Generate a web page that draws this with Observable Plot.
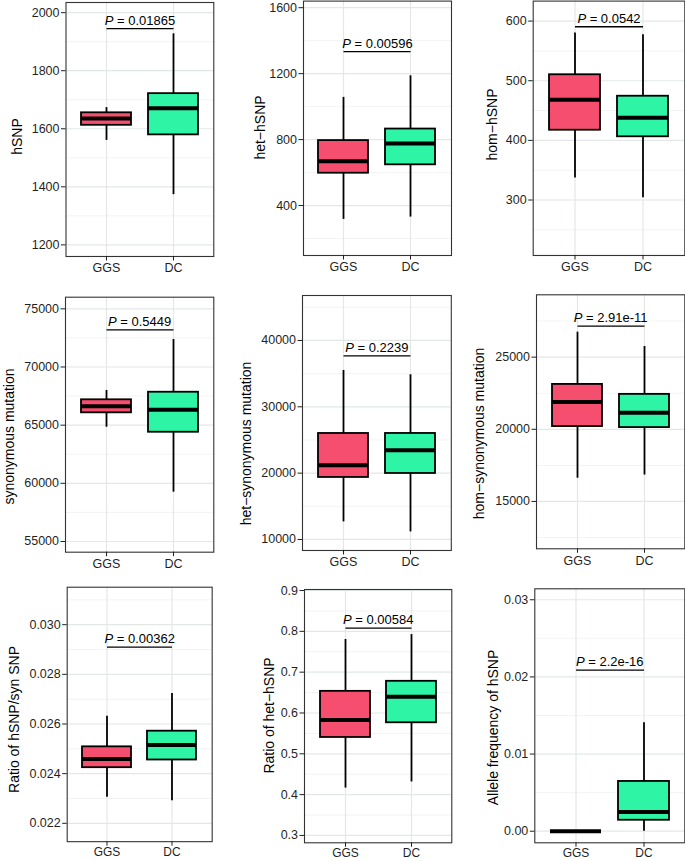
<!DOCTYPE html>
<html><head><meta charset="utf-8">
<script src="https://cdn.jsdelivr.net/npm/d3@7"></script>
<script src="https://cdn.jsdelivr.net/npm/@observablehq/plot@0.6"></script>
<style>
body{margin:0;background:#fff;}
#chart{position:relative;width:685px;height:861px;overflow:hidden;background:#fff;}
#chart svg{position:absolute;}
</style></head><body><div id="chart"></div>
<script>
// ---- data ----
const groups = ["GGS", "DC"];
const groupColors = ["#F64E6E", "#2DF5A5"];
const yLabels = ["hSNP", "het\u2212hSNP", "hom\u2212hSNP",
  "synonymous mutation", "het\u2212synonymous mutation", "hom\u2212synonymous mutation",
  "Ratio of hSNP/syn SNP", "Ratio of het\u2212hSNP", "Allele frequency of hSNP"];
const pTexts = ["P = 0.01865", "P = 0.00596", "P = 0.0542",
  "P = 0.5449", "P = 0.2239", "P = 2.91e-11",
  "P = 0.00362", "P = 0.00584", "P = 2.2e-16"];
// [lower whisker, q1, median, q3, upper whisker]
const ggsStats = [
  [1560, 1612, 1635, 1655, 1673],
  [316, 596, 669, 794, 1056],
  [337, 417, 468, 510, 580],
  [64820, 66060, 66630, 67180, 67980],
  [12650, 19350, 21200, 25980, 35480],
  [16610, 20190, 21890, 23110, 26730],
  [0.02305, 0.02424, 0.02459, 0.02508, 0.02631],
  [0.416, 0.540, 0.5825, 0.653, 0.780],
  [0, 0, 0, 0, 0]
];
const dcStats = [
  [1373, 1579, 1671, 1721, 1927],
  [330, 647, 777, 864, 1187],
  [304, 406, 438, 474, 577],
  [59240, 64390, 66320, 67830, 72360],
  [11140, 19950, 23460, 25980, 34830],
  [16830, 20120, 21150, 22420, 25740],
  [0.02291, 0.02455, 0.02515, 0.02571, 0.02723],
  [0.431, 0.576, 0.6396, 0.6776, 0.792],
  [0, 0.00142, 0.0025, 0.00645, 0.01407]
];
const bracketY = [1945, 1334, 590.5, 73195, 37690, 27150, 0.0291, 0.808, 0.02087];
const yTicks = [
  [1200, 1400, 1600, 1800, 2000],
  [400, 800, 1200, 1600],
  [300, 400, 500, 600],
  [55000, 60000, 65000, 70000, 75000],
  [10000, 20000, 30000, 40000],
  [15000, 20000, 25000],
  [0.022, 0.024, 0.026, 0.028, 0.030],
  [0.3, 0.4, 0.5, 0.6, 0.7, 0.8, 0.9],
  [0, 0.01, 0.02, 0.03]
];
const yMinor = [
  [1300, 1500, 1700, 1900],
  [200, 600, 1000, 1400],
  [250, 350, 450, 550],
  [57500, 62500, 67500, 72500],
  [15000, 25000, 35000, 45000],
  [12500, 17500, 22500, 27500],
  [0.023, 0.025, 0.027, 0.029, 0.031],
  [0.35, 0.45, 0.55, 0.65, 0.75, 0.85],
  [0.005, 0.015, 0.025]
];
const yDomains = [
  [1160, 2035], [97, 1640], [207, 633.5],
  [54080, 76000], [8340, 46780], [11720, 29320],
  [0.02126, 0.03151], [0.282, 0.9025], [-0.0015, 0.03142]
];
const tickFormats = ["d", "d", "d", "d", "d", "d", ".3f", ".1f", ".2f"];

// ---- layout (page pixels) ----
const colStart = [0, 228, 456], rowStart = [0, 285, 575];
const frames = [ // [left, top, right, bottom]
  [65.5, 2, 213.3, 256], [303, 0.6, 451, 255], [532.7, 0.6, 684.3, 255],
  [65, 296.7, 213.3, 551.7], [302, 295, 450.8, 550], [536, 294.3, 684.3, 548.3],
  [66.7, 586.7, 211.7, 841.2], [304, 589, 451.3, 842.3], [534.3, 588.3, 684.3, 842.3]
];
const titleCenters = [
  [17.5, 136], [260, 127], [492, 124],
  [9, 436], [246, 443], [479, 433],
  [14, 719], [269, 715], [493.5, 727]
];

const chart = document.getElementById("chart");
const FONT = "'Liberation Sans', Arial, Helvetica, sans-serif";

frames.forEach(([L, T, R, B], i) => {
  const row = Math.floor(i / 3);
  const cx = colStart[i % 3], cy = rowStart[row];
  const mL = L - cx, mT = T - cy, mR = 1, mB = Math.min(30, 861 - B);
  const rows = groups.map((g, k) => {
    const s = (k === 0 ? ggsStats : dcStats)[i];
    return {g, min: s[0], q1: s[1], med: s[2], q3: s[3], max: s[4]};
  });
  const [tx, ty] = titleCenters[i];
  const plot = Plot.plot({
    width: R - cx + mR,
    height: B - cy + mB,
    marginLeft: mL, marginTop: mT, marginRight: mR, marginBottom: mB,
    style: {fontFamily: FONT, background: "transparent", overflow: "visible", maxWidth: "none"},
    x: {type: "band", domain: groups, paddingInner: 0.25, paddingOuter: 0.225},
    y: {domain: yDomains[i]},
    color: {domain: groups, range: groupColors},
    marks: [
      Plot.gridY(yMinor[i], {stroke: "#eef1f0", strokeOpacity: 1, strokeWidth: 0.8}),
      Plot.gridY(yTicks[i], {stroke: "#e3e8e7", strokeOpacity: 1, strokeWidth: 1.2}),
      Plot.gridX(groups, {stroke: "#e3e8e7", strokeOpacity: 1, strokeWidth: 1.2}),
      Plot.ruleX(rows, {x: "g", y1: "min", y2: "max", stroke: "black", strokeWidth: 1.8}),
      Plot.barY(rows, {x: "g", y1: "q1", y2: "q3", fill: "g", stroke: "black", strokeWidth: 1.8}),
      Plot.tickY(rows, {x: "g", y: "med", stroke: "black", strokeWidth: 4}),
      Plot.link([{a: "GGS", b: "DC", y: bracketY[i]}], {x1: "a", x2: "b", y1: "y", y2: "y", stroke: "black", strokeWidth: 1.3}),
      Plot.text([{y: bracketY[i], t: pTexts[i]}], {y: "y", text: "t", lineAnchor: "bottom", dy: -4, fontSize: 13, fill: "black"}),
      Plot.frame({stroke: "#333", strokeWidth: 1.1}),
      Plot.axisY(yTicks[i], {tickFormat: d3.format(tickFormats[i]), tickSize: 4.5, tickPadding: 2, fontSize: 12.5, color: "#1f1f1f", label: null}),
      Plot.axisX({tickSize: 4.5, tickPadding: row === 2 ? 1 : 2.5, fontSize: row === 2 ? 12 : 12.5, color: "#1f1f1f", label: null}),
      Plot.text([yLabels[i]], {text: d => d, frameAnchor: "left", rotate: -90, dx: tx - L, dy: ty - (T + B) / 2,
        fontSize: 14, textAnchor: "middle", lineAnchor: "middle", fill: "black"})
    ]
  });
  d3.select(plot).selectAll("text").each(function () {
    const t = this.textContent;
    if (t.startsWith("P = ")) {
      const sel = d3.select(this);
      sel.text("");
      sel.append("tspan").attr("font-style", "italic").text("P");
      sel.append("tspan").text(t.slice(1));
    }
  });
  plot.style.position = "absolute";
  plot.style.left = cx + "px";
  plot.style.top = cy + "px";
  chart.appendChild(plot);
});
</script></body></html>
